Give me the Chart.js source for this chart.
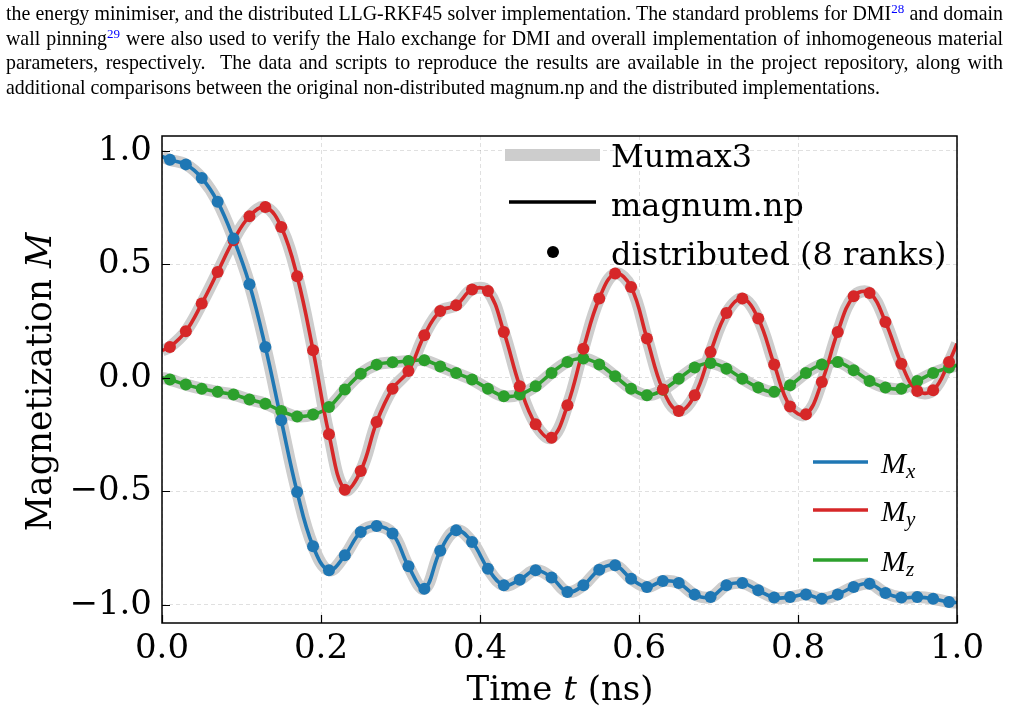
<!DOCTYPE html>
<html>
<head>
<meta charset="utf-8">
<script src="https://cdn.jsdelivr.net/npm/chart.js@4.4.1/dist/chart.umd.min.js"></script>
<style>
html, body { margin: 0; padding: 0; background: #fff; }
#wrap { position: relative; width: 1010px; height: 712px; overflow: hidden; }
#mycanvas { position: absolute; left: 0; top: 0; }
#para { position: absolute; left: 6px; top: 1px; width: 997px; font-family: "Liberation Serif", "Times New Roman", serif; font-size: 19.9px; color: #000; }
#para div { height: 24.5px; line-height: 24.5px; white-space: nowrap; text-align: justify; text-align-last: justify; }
#para div.last { text-align-last: left; }
#para sup { color: #00f; font-size: 13px; line-height: 0; vertical-align: 7px; }
</style>
</head>
<body>
<div id="wrap">
<canvas id="mycanvas" width="1010" height="712"></canvas>
<div id="para">
<div>the energy minimiser, and the distributed LLG-RKF45 solver implementation. The standard problems for DMI<sup>28</sup> and domain</div>
<div>wall pinning<sup>29</sup> were also used to verify the Halo exchange for DMI and overall implementation of inhomogeneous material</div>
<div>parameters, respectively.&nbsp; The data and scripts to reproduce the results are available in the project repository, along with</div>
<div class="last">additional comparisons between the original non-distributed magnum.np and the distributed implementations.</div>
</div>
</div>
<script>
// sample times (ns) of the distributed run
var times = [0.01, 0.03, 0.05, 0.07, 0.09, 0.11, 0.13, 0.15, 0.17, 0.19,
	0.21, 0.23, 0.25, 0.27, 0.29, 0.31, 0.33, 0.35, 0.37, 0.39,
	0.41, 0.43, 0.45, 0.47, 0.49, 0.51, 0.53, 0.55, 0.57, 0.59,
	0.61, 0.63, 0.65, 0.67, 0.69, 0.71, 0.73, 0.75, 0.77, 0.79,
	0.81, 0.83, 0.85, 0.87, 0.89, 0.91, 0.93, 0.95, 0.97, 0.99];

var mx = [0.96, 0.94, 0.88, 0.775, 0.613, 0.412, 0.136, -0.187, -0.503, -0.742,
	-0.848, -0.782, -0.679, -0.653, -0.686, -0.83, -0.929, -0.762, -0.672, -0.723,
	-0.841, -0.914, -0.889, -0.848, -0.88, -0.943, -0.914, -0.845, -0.826, -0.885,
	-0.921, -0.895, -0.904, -0.955, -0.966, -0.914, -0.904, -0.936, -0.968, -0.966,
	-0.954, -0.973, -0.954, -0.921, -0.907, -0.948, -0.968, -0.966, -0.973, -0.988];

var my = [0.136, 0.205, 0.327, 0.466, 0.606, 0.711, 0.752, 0.664, 0.447, 0.121,
	-0.249, -0.493, -0.41, -0.195, -0.048, 0.03, 0.187, 0.294, 0.319, 0.389,
	0.382, 0.202, -0.037, -0.205, -0.264, -0.121, 0.128, 0.349, 0.459, 0.4,
	0.173, -0.052, -0.146, -0.077, 0.114, 0.285, 0.349, 0.261, 0.059, -0.126,
	-0.161, -0.018, 0.202, 0.359, 0.374, 0.246, 0.062, -0.058, -0.055, 0.07];

var mz = [-0.008, -0.03, -0.048, -0.062, -0.074, -0.096, -0.114, -0.146, -0.17, -0.162,
	-0.129, -0.052, 0.018, 0.058, 0.068, 0.074, 0.077, 0.05, 0.021, -0.008,
	-0.048, -0.081, -0.074, -0.037, 0.021, 0.07, 0.085, 0.059, 0.007, -0.048,
	-0.077, -0.053, -0.004, 0.045, 0.065, 0.04, -0.004, -0.043, -0.062, -0.033,
	0.021, 0.059, 0.07, 0.033, -0.014, -0.043, -0.048, -0.014, 0.021, 0.045];

// values of the continuous curves at t = 0 and t = 1
var lineEnds = [0, 1];
var mxEnds = [0.975, -0.99];
var myEnds = [0.12, 0.15];
var mzEnds = [0.0, 0.055];

var xTicks = [0, 0.2, 0.4, 0.6, 0.8, 1.0];
var yTicks = [-1.0, -0.5, 0, 0.5, 1.0];

var compNames = ['x', 'y', 'z'];
var compColors = ['#1f77b4', '#d62728', '#2ca02c'];

function fmt(v) {
	return (v < 0 ? '\u2212' : '') + Math.abs(v).toFixed(1);
}

function linePoints(vals, ends) {
	var pts = [{x: lineEnds[0], y: ends[0]}];
	for (var i in times) pts.push({x: times[i], y: vals[i]});
	pts.push({x: lineEnds[1], y: ends[1]});
	return pts;
}
function dotPoints(vals) {
	var pts = [];
	for (var i in times) pts.push({x: times[i], y: vals[i]});
	return pts;
}

var series = [[mx, mxEnds], [my, myEnds], [mz, mzEnds]];
var datasets = [];
series.forEach(function(s, k) {
	datasets.push({
		label: 'Mumax3 M' + compNames[k],
		data: linePoints(s[0], s[1]),
		borderColor: '#cdcdcd',
		borderWidth: 12,
		pointRadius: 0,
		tension: 0.4,
		clip: 0,
		order: 3
	});
	datasets.push({
		label: 'magnum.np M' + compNames[k],
		data: linePoints(s[0], s[1]),
		borderColor: compColors[k],
		borderWidth: 3.6,
		pointRadius: 0,
		tension: 0.4,
		clip: 0,
		order: 2
	});
	datasets.push({
		label: 'distributed M' + compNames[k],
		data: dotPoints(s[0]),
		showLine: false,
		pointRadius: 6,
		pointBorderWidth: 0,
		pointBackgroundColor: compColors[k],
		borderColor: compColors[k],
		order: 1
	});
});

function richText(ctx, parts, x, y, align) {
	var total = 0;
	parts.forEach(function(p) { ctx.font = p.font; p.w = ctx.measureText(p.text).width; total += p.w; });
	var cx = align === 'center' ? x - total / 2 : x;
	parts.forEach(function(p) {
		ctx.font = p.font;
		ctx.fillText(p.text, cx, y + (p.dy || 0));
		cx += p.w;
	});
}

var decor = {
	id: 'decor',
	afterDraw: function(chart) {
		var ctx = chart.ctx, a = chart.chartArea;
		var xs = chart.scales.x, ys = chart.scales.y;
		ctx.save();
		ctx.strokeStyle = '#000';
		ctx.lineWidth = 1.2;
		ctx.beginPath();
		xTicks.forEach(function(v) {
			var px = Math.round(xs.getPixelForValue(v)) + 0.5;
			ctx.moveTo(px, a.bottom); ctx.lineTo(px, a.bottom - 8);
		});
		yTicks.forEach(function(v) {
			var py = Math.round(ys.getPixelForValue(v)) + 0.5;
			ctx.moveTo(a.left, py); ctx.lineTo(a.left + 8, py);
		});
		ctx.stroke();
		ctx.lineWidth = 1.5;
		ctx.strokeRect(a.left, a.top, a.right - a.left, a.bottom - a.top);

		ctx.fillStyle = '#000';
		ctx.textBaseline = 'alphabetic';
		var serif = '"DejaVu Serif"';
		// axis titles
		richText(ctx, [
			{text: 'Time ', font: '34px ' + serif},
			{text: 't', font: 'italic 34px ' + serif},
			{text: ' (ns)', font: '34px ' + serif}
		], 560, 700, 'center');
		ctx.save();
		ctx.translate(51, 382);
		ctx.rotate(-Math.PI / 2);
		richText(ctx, [
			{text: 'Magnetization ', font: '34.5px ' + serif},
			{text: 'M', font: 'italic 34.5px ' + serif}
		], 0, 0, 'center');
		ctx.restore();

		// legend: solvers
		ctx.lineCap = 'butt';
		ctx.strokeStyle = '#cdcdcd'; ctx.lineWidth = 12;
		ctx.beginPath(); ctx.moveTo(505, 155); ctx.lineTo(600, 155); ctx.stroke();
		ctx.strokeStyle = '#000'; ctx.lineWidth = 3.4;
		ctx.beginPath(); ctx.moveTo(509, 202); ctx.lineTo(596, 202); ctx.stroke();
		ctx.beginPath(); ctx.arc(553, 252, 6, 0, Math.PI * 2); ctx.fill();
		ctx.font = '32px ' + serif;
		ctx.fillText('Mumax3', 611, 167);
		ctx.fillText('magnum.np', 611, 216);
		ctx.fillText('distributed (8 ranks)', 611, 265);

		// legend: components
		var ly = [462, 510, 560];
		compNames.forEach(function(n, k) {
			ctx.strokeStyle = compColors[k]; ctx.lineWidth = 3.6;
			ctx.beginPath(); ctx.moveTo(813, ly[k]); ctx.lineTo(868, ly[k]); ctx.stroke();
			richText(ctx, [
				{text: 'M', font: 'italic 30px "Liberation Serif"'},
				{text: n, font: 'italic 21px "Liberation Serif"', dy: 5}
			], 881, ly[k] + 11, 'left');
		});
		ctx.restore();
	}
};

var ctx = document.getElementById('mycanvas');
var chart = new Chart(ctx, {
	type: 'line',
	data: { datasets: datasets },
	options: {
		responsive: false,
		devicePixelRatio: 1,
		animation: false,
		layout: { padding: { top: 136, right: 53, left: 0, bottom: 0 } },
		plugins: { legend: { display: false }, tooltip: { enabled: false } },
		scales: {
			x: {
				type: 'linear', min: 0, max: 1,
				afterBuildTicks: function(s) { s.ticks = xTicks.map(function(v) { return {value: v}; }); },
				afterFit: function(s) { s.height = 89; },
				grid: { color: 'rgba(0,0,0,0.12)', lineWidth: 1, drawTicks: false },
				border: { display: false, dash: [4, 3] },
				ticks: { autoSkip: false, maxRotation: 0, padding: 6, color: '#000',
					font: { family: 'DejaVu Serif', size: 34 }, callback: function(v) { return fmt(v); } }
			},
			y: {
				type: 'linear', min: -1.08, max: 1.065,
				afterBuildTicks: function(s) { s.ticks = yTicks.map(function(v) { return {value: v}; }); },
				afterFit: function(s) { s.width = 162; },
				grid: { color: 'rgba(0,0,0,0.12)', lineWidth: 1, drawTicks: false },
				border: { display: false, dash: [4, 3] },
				ticks: { autoSkip: false, padding: 10, color: '#000',
					font: { family: 'DejaVu Serif', size: 34 }, callback: function(v) { return fmt(v); } }
			}
		}
	},
	plugins: [decor]
});
</script>
</body>
</html>
